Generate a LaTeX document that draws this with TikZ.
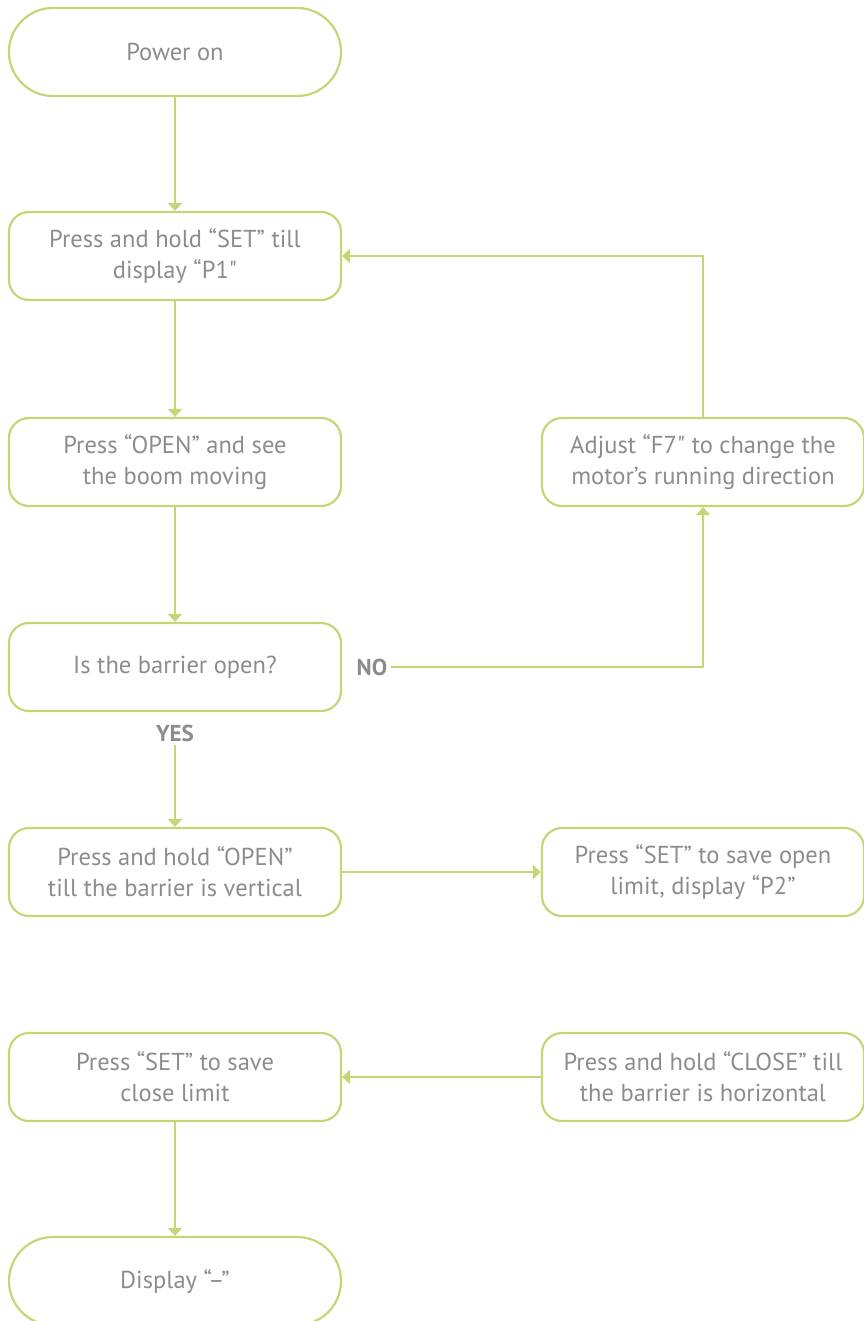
\documentclass[tikz,border=0pt]{standalone}
\usepackage{fontspec}
\setmainfont{PT Sans}[Ligatures=TeXOff]
\usetikzlibrary{arrows.meta,positioning}
\definecolor{flowgreen}{RGB}{197,214,118}
\definecolor{flowgray}{RGB}{140,140,140}

\begin{document}
\begin{tikzpicture}[x=1pt,y=-1pt,
    box/.style={draw=flowgreen, line width=2.2pt, rounded corners=20pt,
      minimum width=332pt, minimum height=88pt, align=center, text=flowgray,
      font=\fontsize{24.5}{31}\selectfont},
    sidebox/.style={box, minimum width=322pt},
    terminal/.style={box, rounded corners=43.9pt},
    answer/.style={text=flowgray, font=\fontsize{23}{26}\selectfont\bfseries},
    flow/.style={draw=flowgreen, line width=2.2pt, -{Triangle[length=8pt,width=14pt]}}]
  \useasboundingbox (0,0) rectangle (863,1321);
  % left column
  \node[terminal] (power) at (175,52) {Power on};
  \node[box] (hold) at (175,256) {Press and hold “SET” till\\display “P1"};
  \node[box] (open) at (175,462) {Press “OPEN” and see\\the boom moving};
  \node[box] (ask) at (175,667) {Is the barrier open?};
  \node[answer] (yes) at (175,733) {YES};
  \node[answer] (no) at (372,667) {NO};
  \node[box] (holdopen) at (175,872) {Press and hold “OPEN”\\till the barrier is vertical};
  \node[box] (saveclose) at (175,1077) {Press “SET” to save\\close limit};
  \node[terminal] (display) at (175,1281) {Display “–”};
  % right column
  \node[sidebox] (adjust) at (703,462) {Adjust “F7" to change the\\motor’s running direction};
  \node[sidebox] (saveopen) at (703,872) {Press “SET” to save open\\limit, display “P2”};
  \node[sidebox] (holdclose) at (703,1077) {Press and hold “CLOSE” till\\the barrier is horizontal};
  % connectors
  \draw[flow] (power) -- (hold);
  \draw[flow] (hold) -- (open);
  \draw[flow] (open) -- (ask);
  \draw[flow] (yes) -- (holdopen);
  \draw[flow] (no) -| (adjust);
  \draw[flow] (adjust) |- (hold);
  \draw[flow] (holdopen) -- (saveopen);
  \draw[flow] (holdclose) -- (saveclose);
  \draw[flow] (saveclose) -- (display);
\end{tikzpicture}
\end{document}
